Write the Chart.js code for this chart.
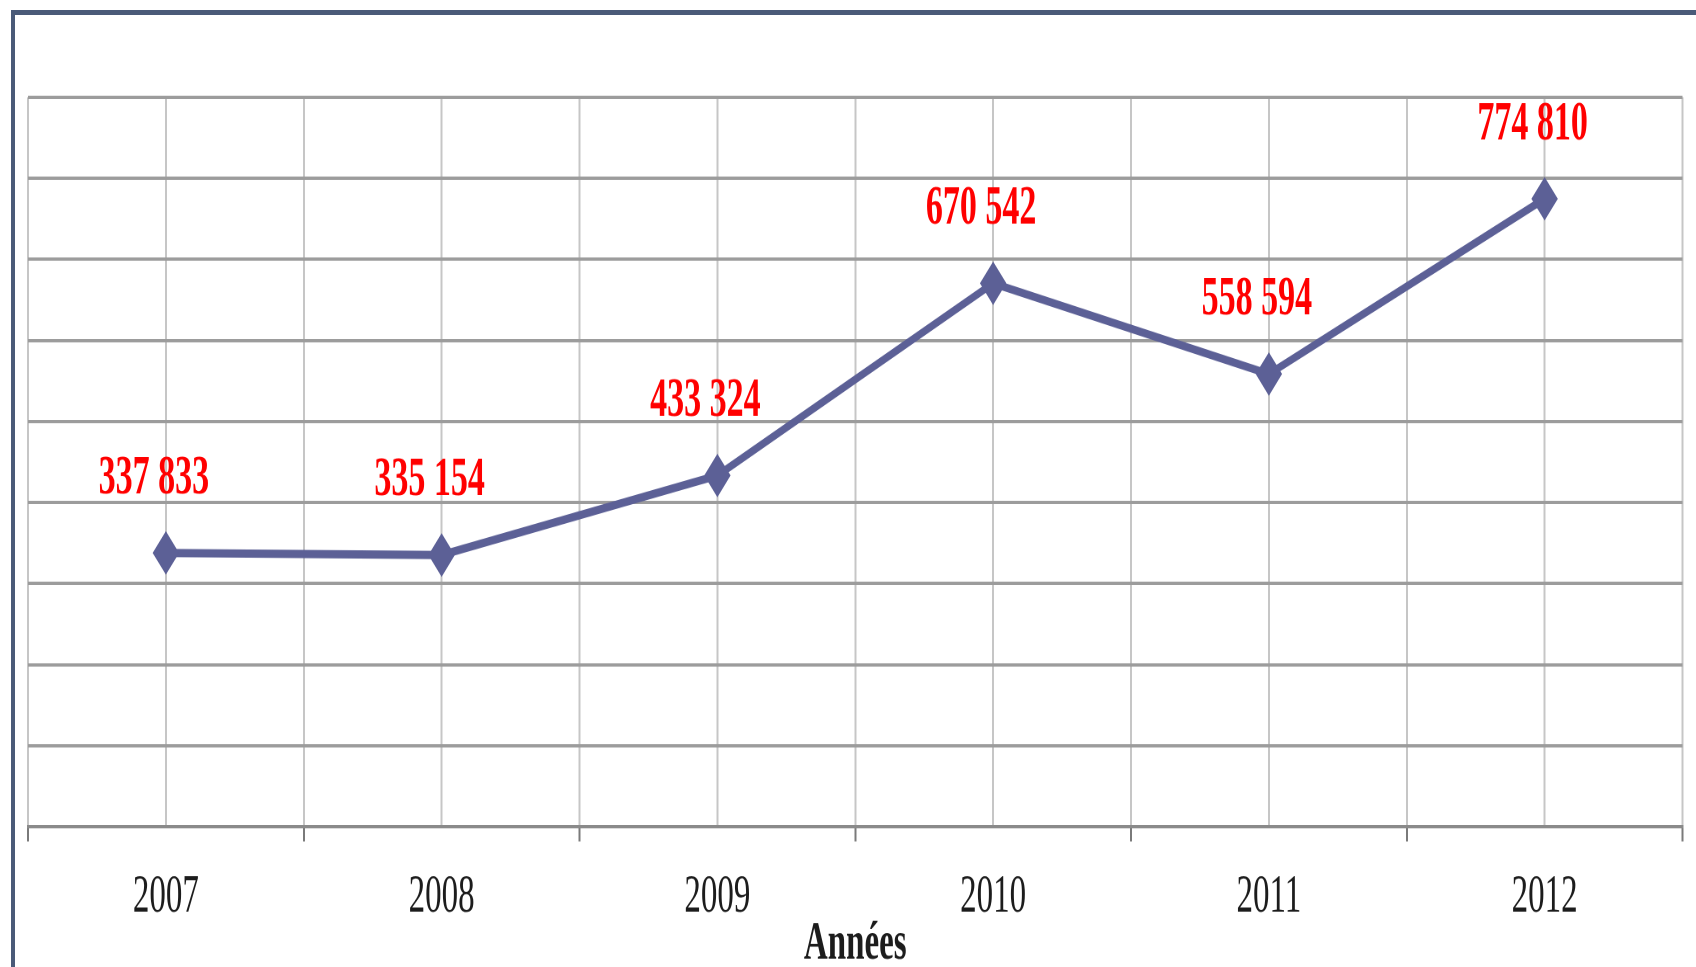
<!DOCTYPE html>
<html lang="fr">
<head>
<meta charset="UTF-8">
<title>Années</title>
<script src="https://cdn.jsdelivr.net/npm/chart.js"></script>
<style>
  body {
    margin: 0;
    background: #fff;
    width: 1696px;
    height: 967px;
    overflow: hidden;
    position: relative;
  }
  .frame {
    position: absolute;
    left: 11px;
    top: 10px;
    width: 1800px;
    height: 1100px;
    border-left: 4px solid #4a5a78;
    border-top: 5px solid #4a5a78;
  }
  /* the original picture is stretched vertically, so draw flat and stretch */
  .stretch {
    position: absolute;
    left: 0;
    top: 0;
    width: 1696px;
    height: 586px;
    transform: scaleY(1.65);
    transform-origin: 0 0;
  }
</style>
</head>
<body>
<div class="frame"></div>
<div class="stretch">
  <canvas id="lineChart" width="1696" height="586"></canvas>
</div>
<script>
  const years = ['2007', '2008', '2009', '2010', '2011', '2012'];
  const values = [337833, 335154, 433324, 670542, 558594, 774810];
  const yMin = 0;
  const yMax = 900000;
  const yStep = 100000;

  const lineColor = '#5c6096';

  function formatValue(v) {
    return String(v).replace(/\B(?=(\d{3})+(?!\d))/g, ' ');
  }

  // red value labels above each point
  const valueLabels = {
    id: 'valueLabels',
    afterDatasetsDraw(chart) {
      const ctx = chart.ctx;
      const meta = chart.getDatasetMeta(0);
      ctx.save();
      ctx.font = 'bold 34px "Liberation Serif"';
      ctx.fillStyle = '#ff0000';
      ctx.textAlign = 'center';
      ctx.textBaseline = 'middle';
      meta.data.forEach((pt, i) => {
        ctx.fillText(formatValue(values[i]), pt.x - 12, pt.y - 45);
      });
      ctx.restore();
    }
  };

  const points = values.map((v, i) => ({ x: i, y: v }));

  new Chart(document.getElementById('lineChart').getContext('2d'), {
    type: 'line',
    data: {
      datasets: [{
        data: points,
        borderColor: lineColor,
        backgroundColor: lineColor,
        borderWidth: 5,
        tension: 0,
        pointStyle: 'rectRot',
        pointRadius: 12.5,
        pointBackgroundColor: lineColor,
        pointBorderColor: lineColor,
        pointBorderWidth: 1
      }]
    },
    options: {
      responsive: false,
      devicePixelRatio: 2,
      animation: false,
      layout: { padding: { top: 59, left: 28, right: 5, bottom: 0 } },
      plugins: {
        legend: { display: false },
        tooltip: { enabled: false }
      },
      scales: {
        x: {
          type: 'linear',
          min: -0.5,
          max: 5.5,
          ticks: {
            stepSize: 0.5,
            autoSkip: false,
            maxRotation: 0,
            padding: 5,
            color: '#1c1c1c',
            font: { family: '"Liberation Serif"', size: 33, lineHeight: 1.758 },
            callback: (v) => Number.isInteger(v) ? years[v] : ''
          },
          grid: {
            color: '#c6c6c6',
            lineWidth: 2,
            tickLength: 9,
            tickWidth: 2,
            tickColor: (c) => (c.tick && Number.isInteger(c.tick.value)) ? 'rgba(0,0,0,0)' : '#7a7a7a'
          },
          border: { color: '#8a8a8a', width: 2 },
          title: {
            display: true,
            text: 'Années',
            color: '#1c1c1c',
            font: { family: '"Liberation Serif"', size: 33, weight: 'bold', lineHeight: 1 },
            padding: { top: -22, bottom: -3 }
          }
        },
        y: {
          min: yMin,
          max: yMax,
          ticks: { stepSize: yStep, display: false },
          grid: { color: '#9c9c9c', lineWidth: 2, drawTicks: false },
          border: { display: false }
        }
      }
    },
    plugins: [valueLabels]
  });
</script>
</body>
</html>
